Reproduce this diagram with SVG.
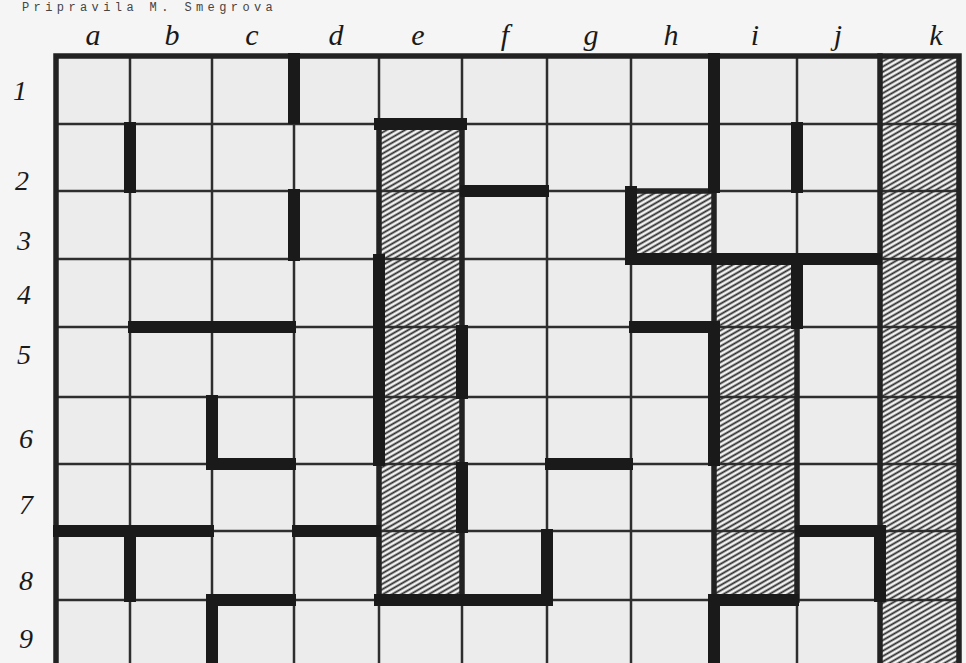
<svg xmlns="http://www.w3.org/2000/svg" width="966" height="663" viewBox="0 0 966 663">
<defs>
<pattern id="hatch" patternUnits="userSpaceOnUse" width="12" height="4.6" patternTransform="rotate(-30)">
<rect width="12" height="4.6" fill="#f3f3f3"/>
<line x1="0" y1="2.3" x2="12" y2="2.3" stroke="#2a2a2a" stroke-width="1.8"/>
</pattern>
</defs>
<style>
.bg{fill:#f5f5f5}
.cells{fill:#ececec}
.hatch{fill:url(#hatch)}
.grid{stroke:#2e2e2e;stroke-width:2.5;fill:none}
.med{stroke:#222;stroke-width:5.5;fill:none;stroke-linejoin:miter;stroke-linecap:square}
.wall{stroke:#1a1a1a;stroke-width:12;fill:none;stroke-linejoin:miter;stroke-linecap:butt}
.col{font-family:"Liberation Serif","DejaVu Serif",serif;font-style:italic;font-size:30px;fill:#1a1a1a;text-anchor:middle}
.row{font-family:"Liberation Serif","DejaVu Serif",serif;font-style:italic;font-size:28px;fill:#1a1a1a;text-anchor:middle}
.title{font-family:"Liberation Mono",monospace;font-size:12px;fill:#444;letter-spacing:4.4px}
</style>
<rect class="bg" x="0" y="0" width="966" height="663"/>
<text class="title" x="22" y="11">Pripravila M. Smegrova</text>

<g id="column-labels">
<text class="col" x="93" y="45">a</text>
<text class="col" x="172" y="45">b</text>
<text class="col" x="252" y="45">c</text>
<text class="col" x="336" y="45">d</text>
<text class="col" x="418" y="45">e</text>
<text class="col" x="505" y="45">f</text>
<text class="col" x="591" y="45">g</text>
<text class="col" x="671" y="45">h</text>
<text class="col" x="755" y="45">i</text>
<text class="col" x="838" y="45">j</text>
<text class="col" x="936" y="45">k</text>
</g>

<g id="row-labels">
<text class="row" x="20" y="100">1</text>
<text class="row" x="22" y="190">2</text>
<text class="row" x="24" y="250">3</text>
<text class="row" x="24" y="304">4</text>
<text class="row" x="24" y="364">5</text>
<text class="row" x="26" y="448">6</text>
<text class="row" x="26" y="514">7</text>
<text class="row" x="26" y="590">8</text>
<text class="row" x="26" y="648">9</text>
</g>

<g id="cells">
<rect class="cells" x="56" y="56" width="903" height="613"/>
</g>

<g id="hatched">
<rect class="hatch" x="379" y="124" width="83" height="476"/>
<rect class="hatch" x="631" y="191" width="83" height="68"/>
<rect class="hatch" x="714" y="259" width="83" height="341"/>
<rect class="hatch" x="880" y="56" width="79" height="613"/>
</g>

<g id="grid">
<path class="grid" d="M130 56V669M212 56V669M294 56V669M379 56V669M462 56V669M547 56V669M631 56V669M714 56V669M797 56V669M880 56V669"/>
<path class="grid" d="M56 124H959M56 191H959M56 259H959M56 327H959M56 397H959M56 464H959M56 531H959M56 600H959"/>
</g>

<g id="borders">
<path class="med" d="M56 669V56H959V669"/>
<path class="med" d="M880 56V669"/>
<path class="med" d="M379 124V259M379 464V600M462 124V327M462 397V464M462 531V600"/>
<path class="med" d="M631 191H714V259"/>
<path class="med" d="M714 259V327M714 464V600M797 327V600"/>
</g>

<g id="walls">
<path class="wall" d="M294 53V124"/>
<path class="wall" d="M130 122V193"/>
<path class="wall" d="M294 189V261"/>
<path class="wall" d="M374 124H467"/>
<path class="wall" d="M714 53V193"/>
<path class="wall" d="M797 122V193"/>
<path class="wall" d="M460 191H549"/>
<path class="wall" d="M631 186V259H882"/>
<path class="wall" d="M379 254V466"/>
<path class="wall" d="M797 257V329"/>
<path class="wall" d="M128 327H296"/>
<path class="wall" d="M629 327H714V466"/>
<path class="wall" d="M462 325V399"/>
<path class="wall" d="M212 395V464H296"/>
<path class="wall" d="M545 464H633"/>
<path class="wall" d="M462 462V533"/>
<path class="wall" d="M53 531H214"/>
<path class="wall" d="M292 531H381"/>
<path class="wall" d="M795 531H880V602"/>
<path class="wall" d="M130 529V602"/>
<path class="wall" d="M374 600H547V529"/>
<path class="wall" d="M799 600H714V669"/>
<path class="wall" d="M296 600H212V669"/>
</g>
</svg>
